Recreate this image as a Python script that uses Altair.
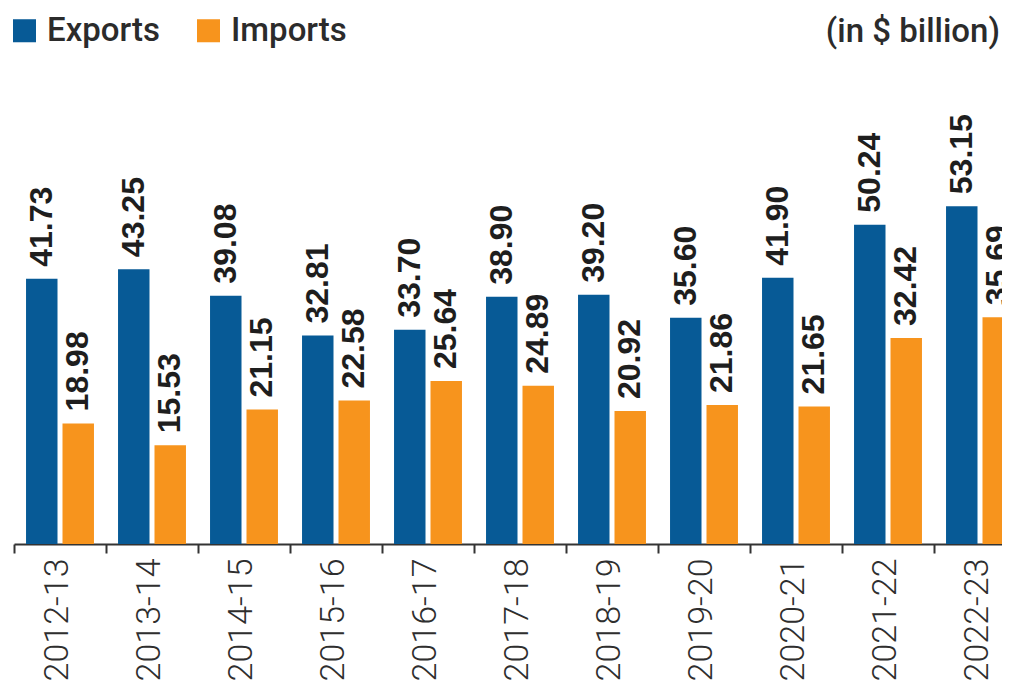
import altair as alt
import pandas as pd

years = ["2012-13", "2013-14", "2014-15", "2015-16", "2016-17", "2017-18",
         "2018-19", "2019-20", "2020-21", "2021-22", "2022-23"]
exports = [41.73, 43.25, 39.08, 32.81, 33.70, 38.90, 39.20, 35.60, 41.90, 50.24, 53.15]
imports = [18.98, 15.53, 21.15, 22.58, 25.64, 24.89, 20.92, 21.86, 21.65, 32.42, 35.69]
series = ["Exports", "Imports"]
colors = ["#075a96", "#f7941d"]
unit_note = ["(in $ billion)"]

rows = []
for i, y in enumerate(years):
    rows.append({"year": y, "series": "Exports", "value": exports[i]})
    rows.append({"year": y, "series": "Imports", "value": imports[i]})
df = pd.DataFrame(rows)

FONT = "Roboto"
LABEL_FONT = "Liberation Sans"

x = alt.X(
    "year:N",
    sort=years,
    scale=alt.Scale(domain=years, range=[0, 1012], paddingInner=0, paddingOuter=0),
    axis=alt.Axis(
        title=None,
        labelAngle=270,
        labelAlign="right",
        labelBaseline="middle",
        labelFont=FONT,
        labelFontSize=34,
        labelFontWeight=300,
        labelColor="#2e2e2e",
        labelPadding=5,
        labelOffset=-3,
        domainColor="#333333",
        domainWidth=2,
        tickColor="#333333",
        tickWidth=2,
        tickSize=9,
        tickBand="extent",
        grid=False,
    ),
)
xo = alt.XOffset(
    "series:N",
    sort=series,
    scale=alt.Scale(domain=series, paddingInner=0.137, paddingOuter=0.33),
)
y = alt.Y("value:Q", scale=alt.Scale(domain=[0, 76], nice=False, zero=True), axis=None)
color = alt.Color(
    "series:N",
    sort=series,
    scale=alt.Scale(domain=series, range=colors),
    legend=alt.Legend(
        title=None,
        orient="none",
        legendX=-6,
        legendY=-47,
        direction="horizontal",
        symbolType="square",
        symbolSize=530,
        symbolStrokeWidth=0,
        symbolOpacity=1,
        labelFont=FONT,
        labelFontSize=33,
        labelFontWeight=500,
        labelColor="#2b2b2b",
        labelOffset=6,
        columnPadding=32,
    ),
)

base = alt.Chart(df).encode(x=x, xOffset=xo, y=y)
bars = base.mark_bar(clip=True).encode(color=color)
labels = base.mark_text(
    clip=True,
    angle=270,
    align="left",
    baseline="middle",
    dx=12,
    font=LABEL_FONT,
    fontSize=32,
    fontWeight="bold",
    color="#1e1e1e",
).encode(text=alt.Text("value:Q", format=".2f"))

note = alt.Chart(pd.DataFrame({"t": unit_note})).mark_text(
    align="right",
    baseline="bottom",
    font=FONT,
    fontSize=33,
    fontWeight=500,
    color="#2b2b2b",
).encode(x=alt.value(986), y=alt.value(-12), text="t:N")

chart = (
    alt.layer(bars, labels, note)
    .properties(
        width=988,
        height=483,
        autosize=alt.AutoSizeParams(type="none"),
        padding={"left": 6, "top": 53, "right": 0, "bottom": 140},
    )
    .configure_view(stroke=None)
)

chart.save("out.html", embed_options={"renderer": "svg", "actions": False})
